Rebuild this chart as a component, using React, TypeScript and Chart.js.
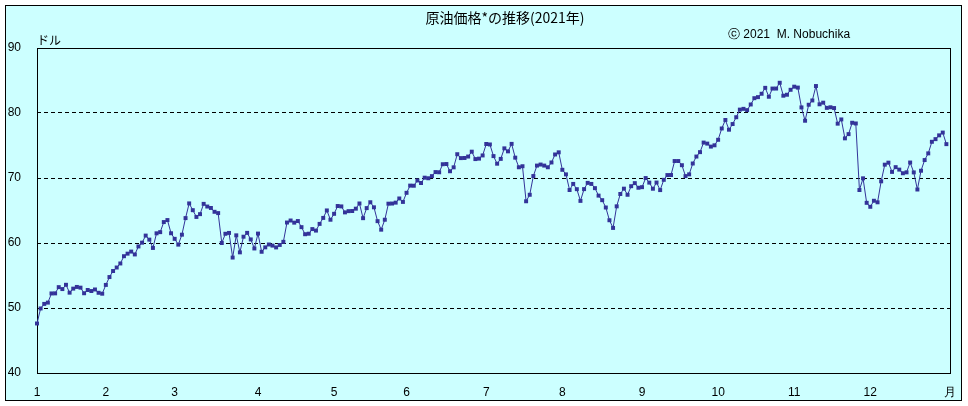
import React, { useEffect, useRef } from "react";
import { Chart, registerables } from "chart.js";

Chart.register(...registerables);

// WTI daily closes 2021 (USD / barrel), read per month
const jan = [47.62, 49.93, 50.63, 50.83, 52.24, 52.25, 53.21, 52.91, 53.57, 52.36, 52.98, 53.24, 53.13, 52.27, 52.77, 52.61, 52.85, 52.34, 52.2];
const feb = [53.55, 54.76, 55.69, 56.23, 56.85, 57.97, 58.36, 58.68, 58.24, 59.47, 60.05, 61.14, 60.52, 59.24, 61.49, 61.67, 63.22, 63.53, 61.5];
const mar = [60.64, 59.75, 61.28, 63.83, 66.09, 65.05, 64.01, 64.44, 66.02, 65.61, 65.39, 64.8, 64.6, 60.0, 61.42, 61.55, 57.76, 61.18, 58.56, 60.97, 61.56, 60.55, 59.16];
const apr = [61.45, 58.65, 59.33, 59.77, 59.6, 59.32, 59.7, 60.18, 63.15, 63.46, 63.13, 63.38, 62.44, 61.35, 61.43, 62.14, 61.91, 62.94, 63.86, 65.01, 63.58];
const may = [64.49, 65.69, 65.63, 64.71, 64.9, 64.92, 65.28, 66.08, 63.82, 65.37, 66.27, 65.49, 63.36, 62.05, 63.58, 66.05, 66.07, 66.21, 66.85, 66.32];
const jun = [67.72, 68.83, 68.81, 69.62, 69.23, 70.05, 69.96, 70.29, 70.91, 70.88, 72.12, 72.15, 71.04, 71.64, 73.66, 73.06, 73.08, 73.3, 74.05, 72.91, 72.98, 73.47];
const jul = [75.23, 75.16, 73.37, 72.2, 72.94, 74.56, 74.1, 75.25, 73.13, 71.65, 71.81, 66.42, 67.42, 70.3, 71.91, 72.07, 71.91, 71.65, 72.39, 73.62, 73.95];
const aug = [71.26, 70.56, 68.15, 69.09, 68.28, 66.48, 68.29, 69.25, 69.09, 68.44, 67.29, 66.59, 65.46, 63.5, 62.32, 65.64, 67.54, 68.36, 67.42, 68.74, 69.21, 68.5];
const sep = [68.59, 69.99, 69.29, 68.35, 69.3, 68.14, 69.72, 70.45, 70.46, 72.61, 72.61, 71.97, 70.29, 70.56, 72.23, 73.3, 73.98, 75.45, 75.29, 74.83, 75.03];
const oct = [75.88, 77.62, 78.93, 77.43, 78.3, 79.35, 80.52, 80.64, 80.44, 81.31, 82.28, 82.44, 82.96, 83.87, 82.5, 83.76, 83.76, 84.65, 82.66, 82.81, 83.57];
const nov = [84.05, 83.91, 80.86, 78.81, 81.27, 81.93, 84.15, 81.34, 81.59, 80.79, 80.88, 80.76, 78.36, 79.01, 76.1, 76.75, 78.5, 78.39, 68.15, 69.95, 66.18];
const dec = [65.57, 66.5, 66.26, 69.49, 72.05, 72.36, 70.94, 71.67, 71.29, 70.73, 70.87, 72.38, 70.86, 68.23, 71.12, 72.76, 73.79, 75.57, 75.98, 76.56, 76.99, 75.21];

const months = [jan, feb, mar, apr, may, jun, jul, aug, sep, oct, nov, dec];
const monthLabels = ["1", "2", "3", "4", "5", "6", "7", "8", "9", "10", "11", "12", "月"];
const yTickValues = [40, 50, 60, 70, 80, 90];

const titleText = "原油価格*の推移(2021年)";
const creditText = "ⓒ 2021  M. Nobuchika";
const unitText = "ドル";

const prices: number[] = months.flat();
const monthStarts: number[] = [0];
months.forEach((m) => monthStarts.push(monthStarts[monthStarts.length - 1] + m.length));

const LINE = "#333399";
const BG = "#CCFFFF";
const LABEL_FONT = "'Liberation Sans', Arial, sans-serif";
const JP_FONT = "'Noto Sans CJK JP', 'Liberation Sans', sans-serif";

export default function App() {
  const ref = useRef<HTMLCanvasElement | null>(null);

  useEffect(() => {
    document.body.style.margin = "0";
    const canvas = ref.current;
    if (!canvas) return;

    const framePlugin = {
      id: "frame",
      beforeDraw(chart: any) {
        const ctx = chart.ctx;
        ctx.save();
        ctx.fillStyle = "#ffffff";
        ctx.fillRect(0, 0, chart.width, chart.height);
        ctx.fillStyle = BG;
        ctx.fillRect(5, 5, 957, 396);
        ctx.strokeStyle = "#000";
        ctx.lineWidth = 1;
        ctx.strokeRect(5.5, 5.5, 956, 395);
        ctx.fillStyle = "#000";
        ctx.textBaseline = "middle";
        ctx.textAlign = "center";
        ctx.font = `14px ${JP_FONT}`;
        ctx.fillText(titleText, 505, 18);
        ctx.textAlign = "left";
        ctx.font = `12px ${LABEL_FONT}`;
        ctx.fillText(creditText, 728, 35);
        ctx.font = `12px ${JP_FONT}`;
        ctx.fillText(unitText, 37, 40);
        ctx.restore();
      },
      beforeDatasetsDraw(chart: any) {
        const { ctx, chartArea } = chart;
        ctx.save();
        ctx.strokeStyle = "#000";
        ctx.lineWidth = 1;
        ctx.strokeRect(
          Math.round(chartArea.left) + 0.5,
          Math.round(chartArea.top) + 0.5,
          Math.round(chartArea.right - chartArea.left),
          Math.round(chartArea.bottom - chartArea.top)
        );
        ctx.restore();
      },
    };

    const chart = new Chart(canvas, {
      type: "line",
      data: {
        datasets: [
          {
            data: prices.map((v, i) => ({ x: i, y: v })),
            borderColor: LINE,
            backgroundColor: LINE,
            borderWidth: 1,
            pointStyle: "rect",
            pointRadius: 2.8,
            pointBorderWidth: 0,
            pointBackgroundColor: LINE,
            tension: 0,
            clip: false,
          },
        ],
      },
      options: {
        animation: false,
        responsive: false,
        devicePixelRatio: 1,
        layout: { padding: { top: 48, right: 13, left: 0, bottom: 0 } },
        plugins: {
          legend: { display: false },
          tooltip: { enabled: false },
          title: { display: false },
        },
        scales: {
          x: {
            type: "linear",
            min: 0,
            max: monthStarts[monthStarts.length - 1],
            afterBuildTicks: (scale: any) => {
              scale.ticks = monthStarts.map((v) => ({ value: v }));
            },
            afterFit: (scale: any) => {
              scale.height = 33;
            },
            grid: { display: false, drawTicks: false },
            border: { display: false },
            ticks: {
              autoSkip: false,
              maxRotation: 0,
              padding: 12,
              color: "#000",
              font: { family: LABEL_FONT, size: 12 },
              callback: (_v: any, i: number) => monthLabels[i],
            },
          },
          y: {
            min: 40,
            max: 90,
            afterBuildTicks: (scale: any) => {
              scale.ticks = yTickValues.map((v) => ({ value: v }));
            },
            afterFit: (scale: any) => {
              scale.width = 37;
            },
            grid: {
              drawTicks: false,
              color: (c: any) => (c.tick && (c.tick.value === 40 || c.tick.value === 90) ? "rgba(0,0,0,0)" : "#000"),
              lineWidth: 1,
            },
            border: { display: false, dash: [4, 3] },
            ticks: {
              padding: 16,
              color: "#000",
              font: { family: LABEL_FONT, size: 12 },
            },
          },
        },
      },
      plugins: [framePlugin],
    });

    return () => chart.destroy();
  }, []);

  return <canvas ref={ref} width={968} height={406} style={{ display: "block" }} />;
}
